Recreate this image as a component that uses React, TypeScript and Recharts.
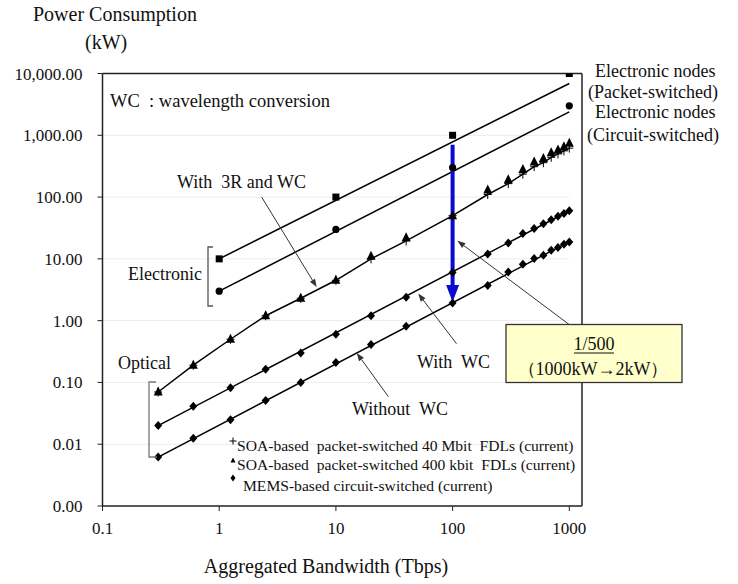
import React from 'react';
import { ComposedChart, Scatter, XAxis, YAxis, ReferenceLine } from 'recharts';

// ---- data ----
const xTicks = [0.1, 1, 10, 100, 1000];
const yTicks = [0.001, 0.01, 0.1, 1, 10, 100, 1000, 10000];
const gridY = [0.01, 0.1, 1, 10, 100, 1000];

const electronicX = [1, 10, 100, 1000];
const packetY = [10, 100, 1000, 10000];
const circuitY = [3, 30, 300, 3000];

const opticalX = [0.3, 0.6, 1.25, 2.5, 5, 10, 20, 40, 100, 200, 300, 400, 500, 600, 700, 800, 900, 1000];
const soa400kY = [0.07, 0.19, 0.5, 1.2, 2.3, 4.5, 11, 22, 50, 130, 190, 280, 370, 420, 520, 580, 650, 740];
const soa40MY = [0.07, 0.19, 0.5, 1.2, 2.3, 4.5, 10, 19.5, 50, 110, 165, 235, 310, 360, 440, 500, 560, 620];
const withWcY = [0.02, 0.041, 0.082, 0.163, 0.3, 0.6, 1.2, 2.4, 6, 12, 18, 25.7, 31, 37, 43, 49, 54, 60];
const withoutWcY = [0.0062, 0.0125, 0.025, 0.051, 0.1, 0.21, 0.41, 0.81, 1.93, 3.7, 6.1, 8.2, 10.1, 11.4, 13.8, 15.2, 17.3, 18.8];

// trend lines (endpoints)
const packetTrend = [[1, 10], [1000, 6900]];
const circuitTrend = [[1, 3], [1000, 2400]];
const withWcTrend = [[0.3, 0.02], [1000, 60]];
const withoutWcTrend = [[0.3, 0.0062], [1000, 19]];

// annotation arrows [from, to] in data coordinates
const arrow3R = [[2.31, 100], [6.84, 3.5]];
const arrowWithWc = [[108, 0.424], [50.8, 2.74]];
const arrowWithoutWc = [[28.1, 0.059], [15.1, 0.3]];
const arrowBox = [[994, 0.87], [110, 19.6]];
const reduction = [[100, 700], [100, 2]];

const X_MAX = 1285;

const toPts = (xs: number[], ys: number[]) => xs.map((x, i) => ({ x, y: ys[i] }));
const seg = (s: number[][]) => s.map(([x, y]) => ({ x, y }));

const FONT = '"Liberation Serif", "Times New Roman", serif';

const Square = (p: any) => <rect x={p.cx - 3.5} y={p.cy - 3.5} width={7} height={7} fill="#000" />;
const Dot = (p: any) => <circle cx={p.cx} cy={p.cy} r={3.6} fill="#000" />;
const Tri = (p: any) => (
  <polygon points={`${p.cx},${p.cy - 5.5} ${p.cx - 4.5},${p.cy + 3.5} ${p.cx + 4.5},${p.cy + 3.5}`} fill="#000" />
);
const Diamond = (p: any) => (
  <polygon points={`${p.cx},${p.cy - 4.5} ${p.cx + 4},${p.cy} ${p.cx},${p.cy + 4.5} ${p.cx - 4},${p.cy}`} fill="#000" />
);
const Plus = (p: any) => (
  <path d={`M${p.cx - 4},${p.cy}H${p.cx + 4}M${p.cx},${p.cy - 4.5}V${p.cy + 4.5}`} stroke="#000" strokeWidth={1} fill="none" />
);

const TrendShape = (p: any) => <line x1={p.x1} y1={p.y1} x2={p.x2} y2={p.y2} stroke="#000" strokeWidth={1.5} />;
const GridShape = (p: any) => <line x1={p.x1} y1={p.y1} x2={p.x2} y2={p.y2} stroke="#ececec" strokeWidth={1} />;

const ArrowShape = (p: any) => {
  const { x1, y1, x2, y2 } = p;
  const a = Math.atan2(y2 - y1, x2 - x1);
  const L = 8, W = 3;
  const bx = x2 - L * Math.cos(a), by = y2 - L * Math.sin(a);
  const nx = -Math.sin(a) * W, ny = Math.cos(a) * W;
  return (
    <g>
      <line x1={x1} y1={y1} x2={bx} y2={by} stroke="#333" strokeWidth={1} />
      <polygon points={`${x2},${y2} ${bx + nx},${by + ny} ${bx - nx},${by - ny}`} fill="#333" />
    </g>
  );
};

const BlueArrowShape = (p: any) => {
  const { x1, y1, x2, y2 } = p;
  const L = 17, W = 6.5;
  return (
    <g>
      <line x1={x1} y1={y1} x2={x2} y2={y2 - L + 1} stroke="#0a0ad0" strokeWidth={4} />
      <polygon points={`${x2},${y2} ${x2 - W},${y2 - L} ${x2 + W},${y2 - L}`} fill="#0a0ad0" />
    </g>
  );
};

const yFmt = (v: number) => v.toLocaleString('en-US', { minimumFractionDigits: 2, maximumFractionDigits: 2 });

const YTick = (p: any) => (
  <text x={p.x} y={p.y} dy="0.355em" textAnchor="end" fontFamily={FONT} fontSize={17} fill="#111">
    {yFmt(p.payload.value)}
  </text>
);
const XTick = (p: any) => (
  <text x={p.x} y={p.y} dy="0.71em" textAnchor="middle" fontFamily={FONT} fontSize={17} fill="#111">
    {String(p.payload.value)}
  </text>
);

const txt = { fontFamily: FONT, fill: '#111', whiteSpace: 'pre' as const };

export default function App() {
  return (
    <div style={{ position: 'absolute', left: 0, top: 0, width: 738, height: 584, background: '#fff' }}>
      <ComposedChart width={738} height={584} margin={{ top: 73.5, right: 156, bottom: 38, left: 12.5 }}>
        <XAxis
          dataKey="x"
          type="number"
          scale="log"
          domain={[0.1, X_MAX]}
          allowDataOverflow
          ticks={xTicks}
          interval={0}
          tick={XTick}
          tickSize={5}
          tickMargin={11}
          height={40}
          axisLine={{ stroke: '#222', strokeWidth: 1.5 }}
          tickLine={{ stroke: '#222' }}
        />
        <YAxis
          dataKey="y"
          type="number"
          scale="log"
          domain={[0.001, 10000]}
          allowDataOverflow
          ticks={yTicks}
          interval={0}
          tick={YTick}
          tickSize={5}
          tickMargin={15}
          width={90}
          axisLine={{ stroke: '#222', strokeWidth: 1.5 }}
          tickLine={{ stroke: '#222' }}
        />
        {gridY.map((y) => (
          <ReferenceLine key={'g' + y} segment={[{ x: 0.1, y }, { x: 1000, y }]} shape={GridShape} ifOverflow="visible" />
        ))}
        <ReferenceLine y={10000} stroke="#222" strokeWidth={1.5} ifOverflow="visible" />
        <ReferenceLine x={X_MAX} stroke="#222" strokeWidth={1.5} ifOverflow="visible" />

        <ReferenceLine segment={seg(packetTrend)} shape={TrendShape} ifOverflow="visible" />
        <ReferenceLine segment={seg(circuitTrend)} shape={TrendShape} ifOverflow="visible" />
        <ReferenceLine segment={seg(withWcTrend)} shape={TrendShape} ifOverflow="visible" />
        <ReferenceLine segment={seg(withoutWcTrend)} shape={TrendShape} ifOverflow="visible" />

        <Scatter name="Electronic packet" data={toPts(electronicX, packetY)} dataKey="y" shape={Square} isAnimationActive={false} />
        <Scatter name="Electronic circuit" data={toPts(electronicX, circuitY)} dataKey="y" shape={Dot} isAnimationActive={false} />
        <Scatter
          name="SOA 40 Mbit"
          data={toPts(opticalX, soa40MY)}
          dataKey="y"
          shape={Plus}
          line={{ stroke: '#000', strokeWidth: 1.5 }}
          lineJointType="linear"
          isAnimationActive={false}
        />
        <Scatter name="SOA 400 kbit" data={toPts(opticalX, soa400kY)} dataKey="y" shape={Tri} isAnimationActive={false} />
        <Scatter name="With WC" data={toPts(opticalX, withWcY)} dataKey="y" shape={Diamond} isAnimationActive={false} />
        <Scatter name="Without WC" data={toPts(opticalX, withoutWcY)} dataKey="y" shape={Diamond} isAnimationActive={false} />

        <ReferenceLine segment={seg(reduction)} shape={BlueArrowShape} ifOverflow="visible" />
        <ReferenceLine segment={seg(arrow3R)} shape={ArrowShape} ifOverflow="visible" />
        <ReferenceLine segment={seg(arrowWithWc)} shape={ArrowShape} ifOverflow="visible" />
        <ReferenceLine segment={seg(arrowWithoutWc)} shape={ArrowShape} ifOverflow="visible" />
        <ReferenceLine segment={seg(arrowBox)} shape={ArrowShape} ifOverflow="visible" />
      </ComposedChart>

      <svg width={738} height={584} style={{ position: 'absolute', left: 0, top: 0, pointerEvents: 'none' }}>
        <text x={33} y={21} fontSize={20} style={txt}>Power Consumption</text>
        <text x={85} y={49} fontSize={20} style={txt}>(kW)</text>
        <text x={110} y={107} fontSize={18.5} style={txt}>WC  : wavelength conversion</text>

        <text x={595} y={77} fontSize={18} style={txt}>Electronic nodes</text>
        <text x={588} y={98} fontSize={18} style={txt}>(Packet-switched)</text>
        <text x={595} y={118} fontSize={18} style={txt}>Electronic nodes</text>
        <text x={587} y={141} fontSize={18} style={txt}>(Circuit-switched)</text>

        <text x={177} y={188} fontSize={18} style={txt}>With  3R and WC</text>
        <text x={128} y={280} fontSize={18} style={txt}>Electronic</text>
        <path d="M213,247H208V306H213" stroke="#555" strokeWidth={1.3} fill="none" />
        <text x={118} y={369} fontSize={18} style={txt}>Optical</text>
        <path d="M156,382H149V457H157" stroke="#777" strokeWidth={1.3} fill="none" />

        <text x={417} y={368} fontSize={18} style={txt}>With  WC</text>
        <text x={352} y={415} fontSize={18} style={txt}>Without  WC</text>

        <path d="M229.5,441H236.5M233,437.5V444.5" stroke="#000" strokeWidth={1} />
        <text x={237} y={451} fontSize={15.6} style={txt}>SOA-based  packet-switched 40 Mbit  FDLs (current)</text>
        <polygon points="233,457.5 230.5,462.5 235.5,462.5" fill="#000" />
        <text x={237} y={470} fontSize={15.6} style={txt}>SOA-based  packet-switched 400 kbit  FDLs (current)</text>
        <polygon points="233,474.5 235.5,478 233,481.5 230.5,478" fill="#000" />
        <text x={243} y={491} fontSize={15.6} style={txt}>MEMS-based circuit-switched (current)</text>

        <text x={326} y={573} fontSize={20} textAnchor="middle" style={txt}>Aggregated Bandwidth (Tbps)</text>

        <rect x={506} y={324.5} width={176} height={58} fill="#ffffcc" stroke="#333" strokeWidth={1.3} />
        <text x={594} y={350} fontSize={18} textAnchor="middle" style={txt}>1/500</text>
        <line x1={574} y1={353} x2={614} y2={353} stroke="#111" strokeWidth={1} />
        <text x={593} y={375} fontSize={18} textAnchor="middle" style={txt}>（1000kW→2kW）</text>
      </svg>
    </div>
  );
}
